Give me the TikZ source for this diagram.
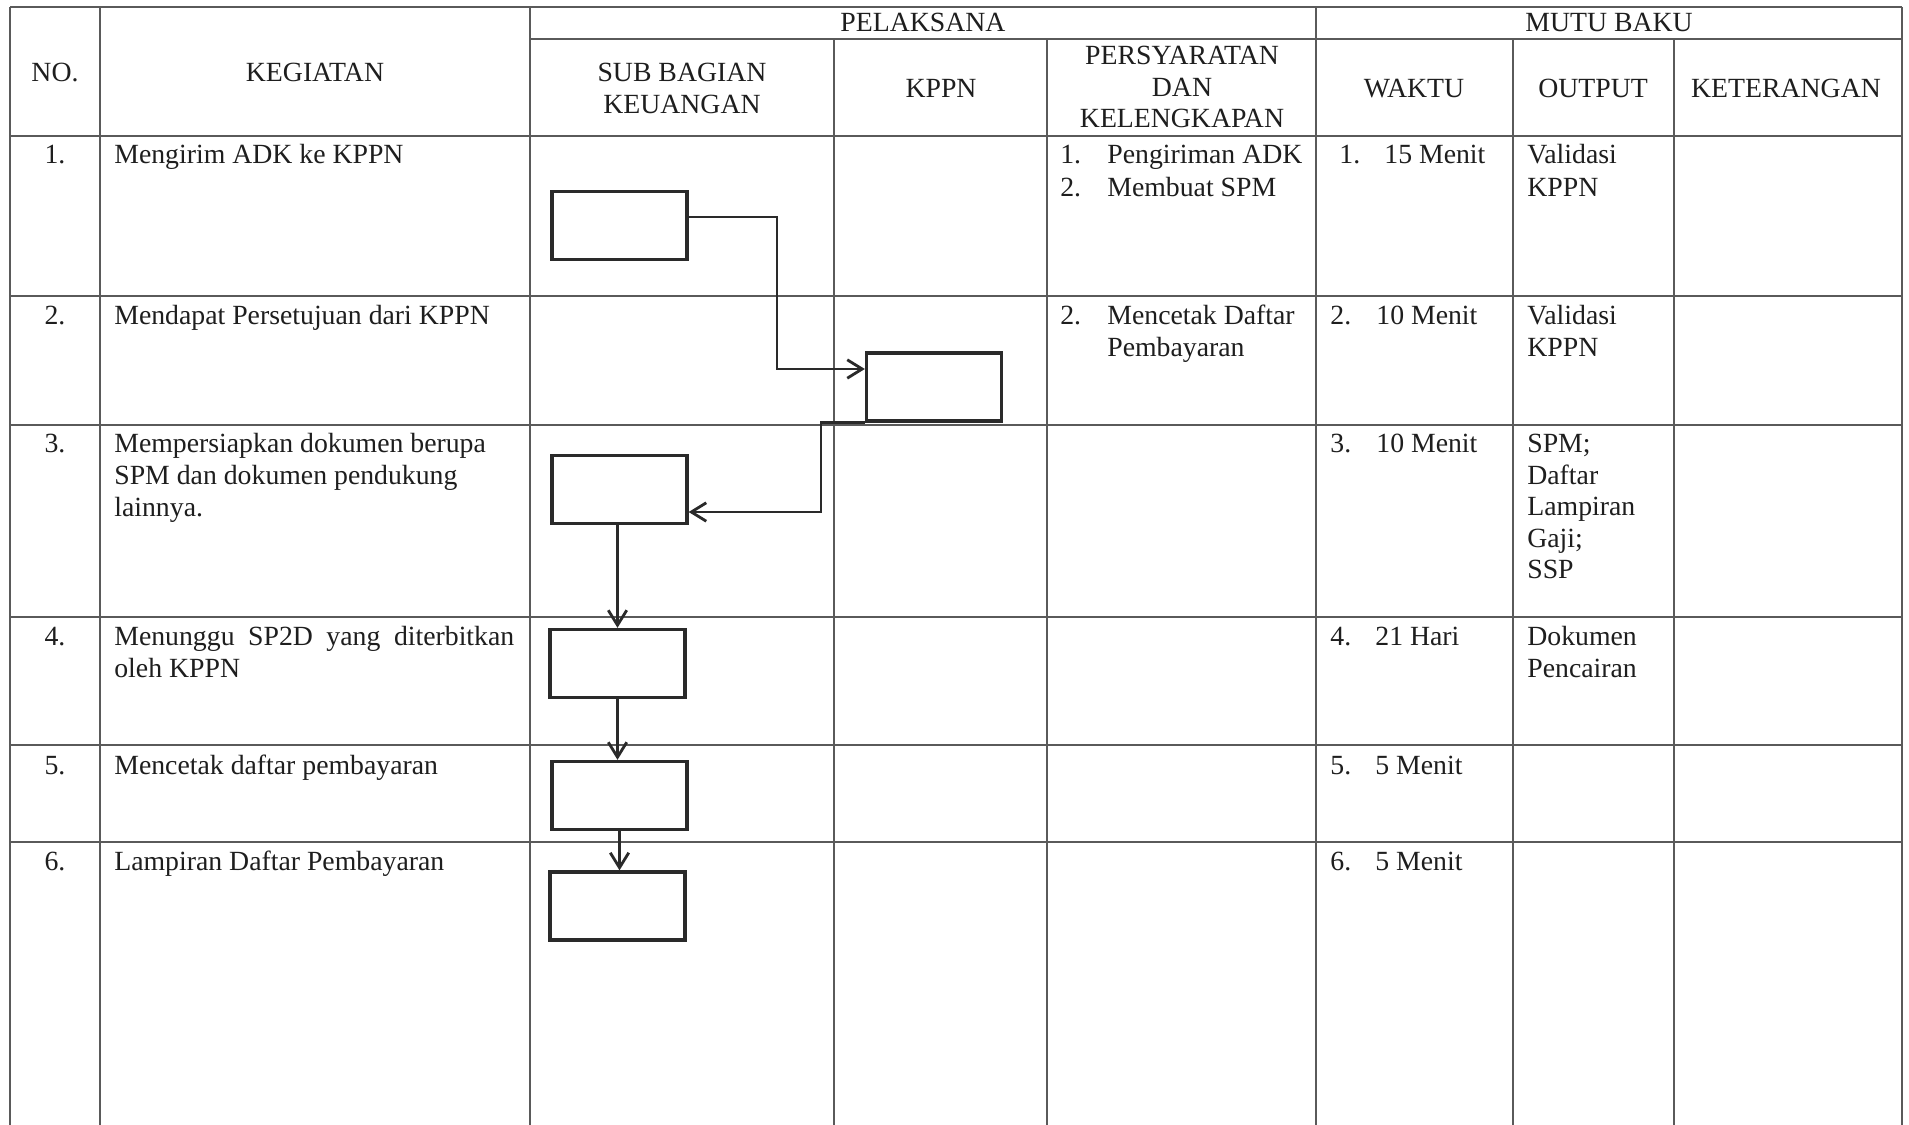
\documentclass[tikz,border=0pt]{standalone}
\usepackage{fontspec}
\setmainfont{Liberation Serif}
\usetikzlibrary{arrows.meta}
\definecolor{ink}{HTML}{2A2A2A}
\definecolor{grid}{HTML}{5A5A5A}
\definecolor{txt}{HTML}{1E1E1E}
\begin{document}
\begin{tikzpicture}[x=0.02cm,y=-0.02cm,
  every node/.style={font=\fontsize{15.8}{18}\selectfont, text=txt},
  gridline/.style={draw=grid, line width=0.75pt},
  lt/.style={anchor=base west, inner sep=0pt},
  ct/.style={anchor=base, inner sep=0pt},
  stepbox/.style={draw=ink, line width=1.9pt, fill=white, inner sep=0pt, minimum width=2.7cm, minimum height=1.36cm},
  flow/.style={draw=ink, line width=1.6pt, -{Straight Barb[length=8.5pt,width=10.5pt,line width=1.6pt]}}]
\fill[white] (0,0) rectangle (1909,1125);
\useasboundingbox (0,0) rectangle (1909,1125);
% table grid
\draw[gridline] (10,7) -- (1902,7);
\draw[gridline] (530,39) -- (1902,39);
\foreach \yy in {136,296,425,617,745,842}{\draw[gridline] (10,\yy) -- (1902,\yy);}
\foreach \xx in {10,100,530,1316,1902}{\draw[gridline] (\xx,7) -- (\xx,1125);}
\foreach \xx in {834,1047,1513,1674}{\draw[gridline] (\xx,39) -- (\xx,1125);}
% headers
\node[ct] (hPel) at (923,32) {PELAKSANA};
\node[ct] (hMutu) at (1609,32) {MUTU BAKU};
\node[ct] (hNo) at (55,82) {NO.};
\node[ct] (hKeg) at (315,82) {KEGIATAN};
\node[ct] (hSub1) at (682,82) {SUB BAGIAN};
\node[ct] (hSub2) at (682,114) {KEUANGAN};
\node[ct] (hKppn) at (941,98) {KPPN};
\node[ct] (hPer1) at (1182,65) {PERSYARATAN};
\node[ct] (hPer2) at (1182,97) {DAN};
\node[ct] (hPer3) at (1182,128) {KELENGKAPAN};
\node[ct] (hWak) at (1414,98) {WAKTU};
\node[ct] (hOut) at (1593,98) {OUTPUT};
\node[ct] (hKet) at (1786,98) {KETERANGAN};
% row 1
\node[ct] (n1) at (55,164) {1.};
\node[lt] (k1) at (114,164) {Mengirim ADK ke KPPN};
\node[lt] (p1a) at (1060,164) {1.};
\node[lt] (p1b) at (1107,164) {Pengiriman ADK};
\node[lt] (p1c) at (1060,196) {2.};
\node[lt] (p1d) at (1107,196) {Membuat SPM};
\node[lt] (w1a) at (1339,164) {1.};
\node[lt] (w1b) at (1384,164) {15 Menit};
\node[lt] (o1a) at (1527,164) {Validasi};
\node[lt] (o1b) at (1527,196) {KPPN};
% row 2
\node[ct] (n2) at (55,324) {2.};
\node[lt] (k2) at (114,324) {Mendapat Persetujuan dari KPPN};
\node[lt] (p2a) at (1060,324) {2.};
\node[lt] (p2b) at (1107,324) {Mencetak Daftar};
\node[lt] (p2c) at (1107,356) {Pembayaran};
\node[lt] (w2a) at (1330,324) {2.};
\node[lt] (w2b) at (1376,324) {10 Menit};
\node[lt] (o2a) at (1527,324) {Validasi};
\node[lt] (o2b) at (1527,356) {KPPN};
% row 3
\node[ct] (n3) at (55,452) {3.};
\node[lt] (k3a) at (114,452) {Mempersiapkan dokumen berupa};
\node[lt] (k3b) at (114,484) {SPM dan dokumen pendukung};
\node[lt] (k3c) at (114,516) {lainnya.};
\node[lt] (w3a) at (1330,452) {3.};
\node[lt] (w3b) at (1376,452) {10 Menit};
\node[lt] (o3a) at (1527,452) {SPM;};
\node[lt] (o3b) at (1527,484) {Daftar};
\node[lt] (o3c) at (1527,515) {Lampiran};
\node[lt] (o3d) at (1527,547) {Gaji;};
\node[lt] (o3e) at (1527,578) {SSP};
% row 4
\node[ct] (n4) at (55,645) {4.};
\node[lt] (k4a) at (114,645) {\hbox to 8cm{Menunggu\hfill SP2D\hfill yang\hfill diterbitkan}};
\node[lt] (k4b) at (114,677) {oleh KPPN};
\node[lt] (w4a) at (1330,645) {4.};
\node[lt] (w4b) at (1375,645) {21 Hari};
\node[lt] (o4a) at (1527,645) {Dokumen};
\node[lt] (o4b) at (1527,677) {Pencairan};
% row 5
\node[ct] (n5) at (55,774) {5.};
\node[lt] (k5) at (114,774) {Mencetak daftar pembayaran};
\node[lt] (w5a) at (1330,774) {5.};
\node[lt] (w5b) at (1375,774) {5 Menit};
% row 6
\node[ct] (n6) at (55,870) {6.};
\node[lt] (k6) at (114,870) {Lampiran Daftar Pembayaran};
\node[lt] (w6a) at (1330,870) {6.};
\node[lt] (w6b) at (1375,870) {5 Menit};
% flow boxes
\node[stepbox] (b1) at (619.5,225.5) {};
\node[stepbox] (b2) at (934,387) {};
\node[stepbox] (b3) at (619.5,489.5) {};
\node[stepbox] (b4) at (617.5,663.5) {};
\node[stepbox] (b5) at (619.5,795.5) {};
\node[stepbox] (b6) at (617.5,906) {};
% connectors
\coordinate (c1) at (777,369);
\coordinate (c2) at (821,512);
\draw[flow] ([yshift=0.17cm]b1.east) -| (c1) -- (c1 -| b2.west);
\draw[flow] (b2.south west) -| (c2) -- (c2 -| b3.east);
\draw[flow] (b4.north |- b3.south) -- (b4.north);
\draw[flow] (b4.south) -- (b4.south |- b5.north);
\draw[flow] (b5.south) -- (b5.south |- b6.north);
\end{tikzpicture}
\end{document}
